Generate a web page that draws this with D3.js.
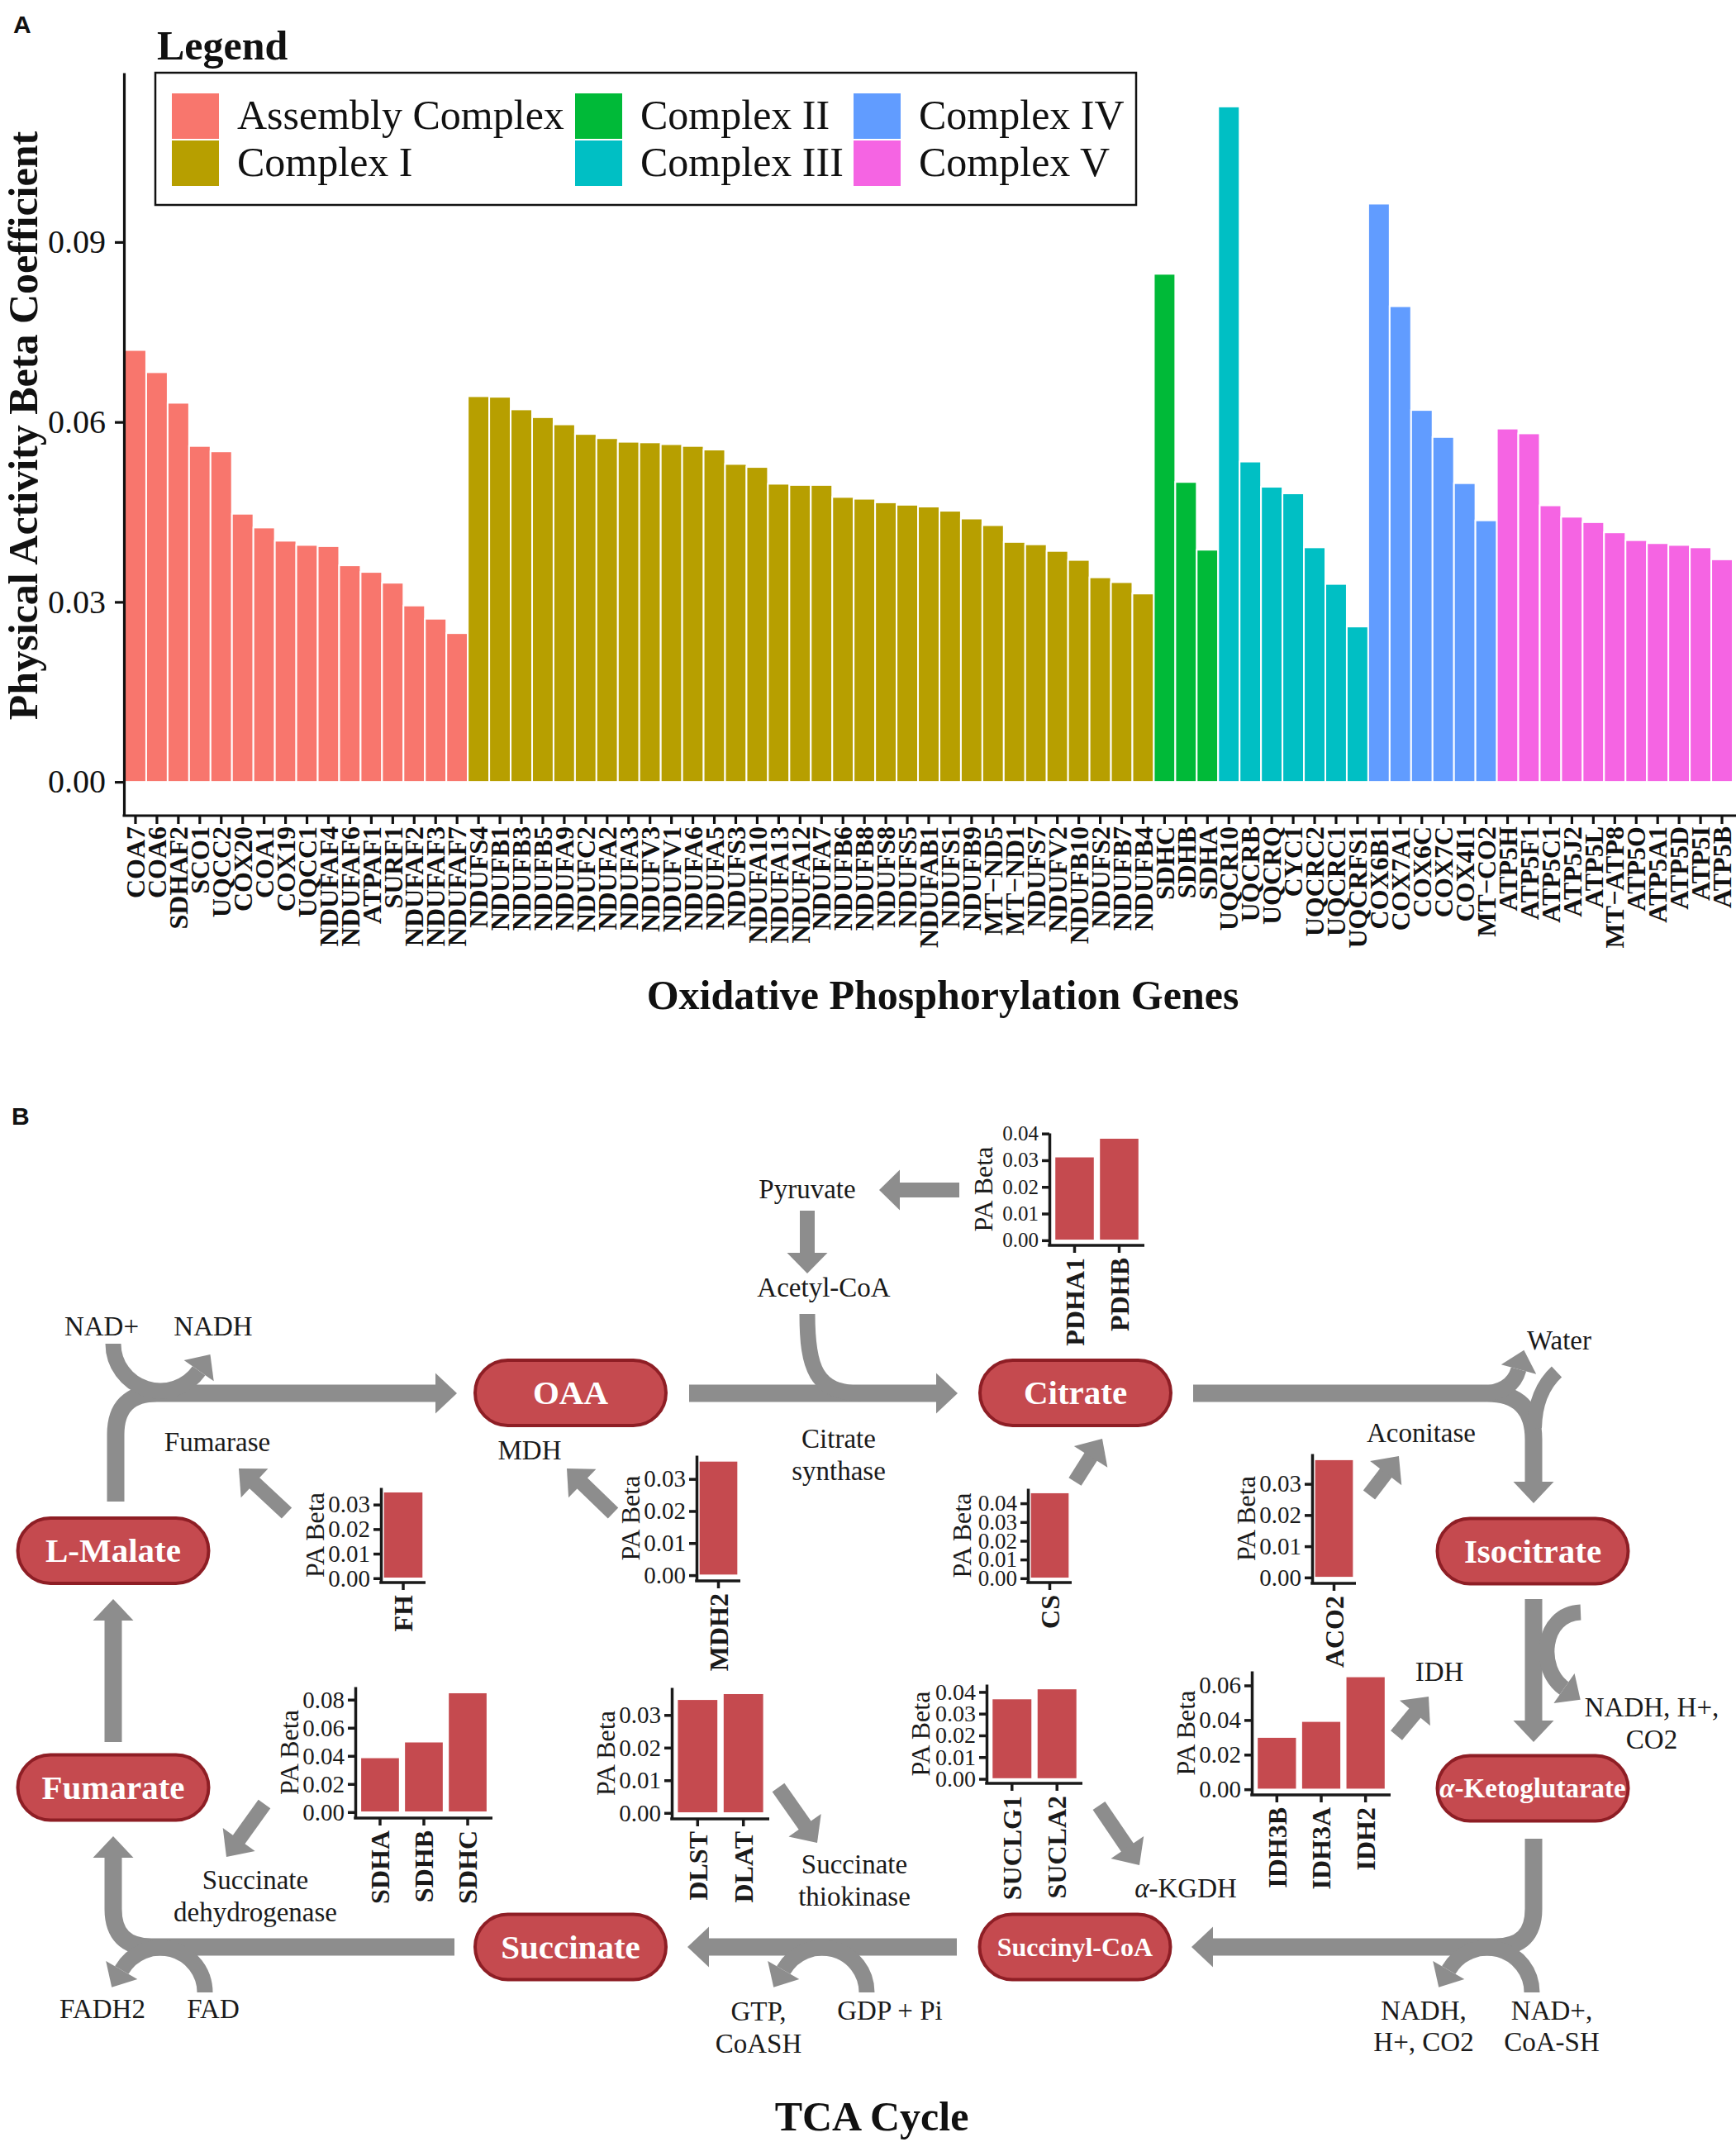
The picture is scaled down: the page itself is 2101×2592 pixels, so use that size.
<!DOCTYPE html>
<html><head><meta charset="utf-8">
<script src="https://cdn.jsdelivr.net/npm/d3@7"></script>
<style>body{margin:0;background:#fff}</style>
</head><body>
<script>
// ================= DATA: Panel A =================
const complexNames = ["Assembly Complex","Complex I","Complex II","Complex III","Complex IV","Complex V"];
const complexColors = ["#F8766D","#B79F00","#00BA38","#00BFC4","#619CFF","#F564E3"];

const assemblyGenes = ["COA7","COA6","SDHAF2","SCO1","UQCC2","COX20","COA1","COX19","UQCC1","NDUFAF4","NDUFAF6","ATPAF1","SURF1","NDUFAF2","NDUFAF3","NDUFAF7"];
const assemblyBeta  = [0.0720,0.0683,0.0632,0.0560,0.0551,0.0447,0.0424,0.0402,0.0395,0.0393,0.0361,0.0350,0.0332,0.0294,0.0272,0.0248];

const complexIGenes = ["NDUFS4","NDUFB1","NDUFB3","NDUFB5","NDUFA9","NDUFC2","NDUFA2","NDUFA3","NDUFV3","NDUFV1","NDUFA6","NDUFA5","NDUFS3","NDUFA10","NDUFA13","NDUFA12","NDUFA7","NDUFB6","NDUFB8","NDUFS8","NDUFS5","NDUFAB1","NDUFS1","NDUFB9","MT\u2212ND5","MT\u2212ND1","NDUFS7","NDUFV2","NDUFB10","NDUFS2","NDUFB7","NDUFB4"];
const complexIBeta  = [0.0643,0.0642,0.0621,0.0608,0.0596,0.0580,0.0573,0.0567,0.0566,0.0563,0.0560,0.0554,0.0530,0.0525,0.0497,0.0495,0.0495,0.0475,0.0472,0.0466,0.0462,0.0459,0.0452,0.0439,0.0428,0.0400,0.0396,0.0385,0.0370,0.0341,0.0333,0.0314];

const complexIIGenes = ["SDHC","SDHB","SDHA"];
const complexIIBeta  = [0.0847,0.0500,0.0387];

const complexIIIGenes = ["UQCR10","UQCRB","UQCRQ","CYC1","UQCRC2","UQCRC1","UQCRFS1"];
const complexIIIBeta  = [0.1126,0.0534,0.0492,0.0481,0.0391,0.0330,0.0259];

const complexIVGenes = ["COX6B1","COX7A1","COX6C","COX7C","COX4I1","MT\u2212CO2"];
const complexIVBeta  = [0.0964,0.0793,0.0620,0.0575,0.0498,0.0436];

const complexVGenes = ["ATP5H","ATP5F1","ATP5C1","ATP5J2","ATP5L","MT\u2212ATP8","ATP5O","ATP5A1","ATP5D","ATP5I","ATP5B"];
const complexVBeta  = [0.0589,0.0581,0.0461,0.0442,0.0433,0.0416,0.0403,0.0398,0.0395,0.0391,0.0371];

const yTicksA = [0, 0.03, 0.06, 0.09];

// ================= DATA: Panel B (mini bar charts) =================
const pdhGenes = ["PDHA1","PDHB"];           const pdhBeta = [0.0313,0.0383];
const fhGenes = ["FH"];                      const fhBeta = [0.0352];
const mdhGenes = ["MDH2"];                   const mdhBeta = [0.0356];
const csGenes = ["CS"];                      const csBeta = [0.0457];
const acoGenes = ["ACO2"];                   const acoBeta = [0.0378];
const sdhGenes = ["SDHA","SDHB","SDHC"];     const sdhBeta = [0.0388,0.0500,0.0850];
const dlGenes = ["DLST","DLAT"];             const dlBeta = [0.0348,0.0366];
const suclGenes = ["SUCLG1","SUCLA2"];       const suclBeta = [0.0369,0.0415];
const idhGenes = ["IDH3B","IDH3A","IDH2"];   const idhBeta = [0.0301,0.0393,0.0651];
const ticks01_03 = [0,0.01,0.02,0.03];
const ticks01_04 = [0,0.01,0.02,0.03,0.04];
const ticks02_06 = [0,0.02,0.04,0.06];
const ticks02_08 = [0,0.02,0.04,0.06,0.08];

// ================= RENDER =================
const W = 2101, H = 2592;
const SERIF = "'Liberation Serif','Times New Roman',Times,serif";
const INK = "#111";
const svg = d3.select("body").append("svg").attr("width",W).attr("height",H)
  .style("font-family",SERIF).style("background","#fff");
svg.append("rect").attr("width",W).attr("height",H).attr("fill","#fff");

// ---------- Panel A ----------
const geneGroups = [
  [assemblyGenes,assemblyBeta],[complexIGenes,complexIBeta],[complexIIGenes,complexIIBeta],
  [complexIIIGenes,complexIIIBeta],[complexIVGenes,complexIVBeta],[complexVGenes,complexVBeta]];
const rowsA = [];
geneGroups.forEach((grp,ci)=>grp[0].forEach((g,i)=>rowsA.push({gene:g,beta:grp[1][i],c:ci})));

const A = {l:151, r:2097, t:88, b:987};
const maxA = d3.max(rowsA,d=>d.beta);
const xA = d3.scaleBand().domain(rowsA.map(d=>d.gene)).range([A.l,A.r]).padding(0);
const yA = d3.scaleLinear().domain([-0.05*maxA,1.05*maxA]).range([A.b,A.t]);

svg.append("text").attr("x",16).attr("y",40).attr("font-family","'Liberation Sans',Arial,sans-serif")
  .attr("font-weight","bold").attr("font-size",30).attr("fill",INK).text("A");

svg.append("g").selectAll("rect").data(rowsA).join("rect")
  .attr("x",d=>xA(d.gene)).attr("width",xA.bandwidth())
  .attr("y",d=>yA(d.beta)).attr("height",d=>yA(0)-yA(d.beta))
  .attr("fill",d=>complexColors[d.c]).attr("stroke","#fff").attr("stroke-width",2);

const yAxA = svg.append("g").attr("transform",`translate(${A.l-1},0)`)
  .call(d3.axisLeft(yA).tickValues(yTicksA).tickFormat(d3.format(".2f")).tickSize(11).tickPadding(11).tickSizeOuter(0));
yAxA.attr("font-family",SERIF).attr("font-size",40);
yAxA.selectAll("path,line").attr("stroke",INK).attr("stroke-width",3.2);
yAxA.selectAll("text").attr("fill",INK);

const xAxA = svg.append("g").attr("transform",`translate(0,${A.b})`)
  .call(d3.axisBottom(xA).tickSize(10).tickSizeOuter(0));
xAxA.select(".domain").attr("d",`M${A.l-2.5},0H${W}`);
xAxA.attr("font-family",SERIF).attr("font-size",32).attr("font-weight","bold");
xAxA.selectAll("path,line").attr("stroke",INK).attr("stroke-width",3.2);
xAxA.selectAll("text").attr("fill",INK).attr("transform","rotate(-90)")
  .attr("x",-13).attr("y",0).attr("dy","0.35em").attr("text-anchor","end");

svg.append("text").attr("transform","translate(27,515) rotate(-90)").attr("text-anchor","middle")
  .attr("dy","0.35em").attr("font-weight","bold").attr("font-size",50).attr("fill",INK)
  .text("Physical Activity Beta Coefficient");
svg.append("text").attr("x",1141).attr("y",1221).attr("text-anchor","middle")
  .attr("font-weight","bold").attr("font-size",50).attr("fill",INK).text("Oxidative Phosphorylation Genes");

// legend
const lg = svg.append("g");
lg.append("rect").attr("x",188).attr("y",88).attr("width",1187).attr("height",160)
  .attr("fill","#fff").attr("stroke",INK).attr("stroke-width",2.5);
lg.append("text").attr("x",190).attr("y",72).attr("font-weight","bold").attr("font-size",50).attr("fill",INK).text("Legend");
const keyX = [208,696,1033];
complexNames.forEach((n,i)=>{
  const col = Math.floor(i/2), row = i%2;
  lg.append("rect").attr("x",keyX[col]).attr("y",113+row*57).attr("width",57).attr("height",55)
    .attr("fill",complexColors[i]);
  lg.append("text").attr("x",keyX[col]+79).attr("y",156+row*57).attr("font-size",50).attr("fill",INK).text(n);
});

// ---------- Panel B ----------
svg.append("text").attr("x",14).attr("y",1361).attr("font-family","'Liberation Sans',Arial,sans-serif")
  .attr("font-weight","bold").attr("font-size",30).attr("fill",INK).text("B");

const GRAY = "#8D8D8D";
const RED = "#C54A4F", RED_DARK = "#8E1E25";
const arrows = svg.append("g");

function head(bx,by,ux,uy,len=26,half=24.5){
  const px=-uy, py=ux;
  arrows.append("path").attr("fill",GRAY)
    .attr("d",`M${bx+len*ux},${by+len*uy}L${bx+half*px},${by+half*py}L${bx-half*px},${by-half*py}Z`);
}
function stroke(d,w){
  arrows.append("path").attr("d",d).attr("fill","none").attr("stroke",GRAY).attr("stroke-width",w).attr("stroke-linecap","butt");
}
function straightArrow(x1,y1,x2,y2,w=18,len=26,half=24){
  const dx=x2-x1, dy=y2-y1, L=Math.hypot(dx,dy), ux=dx/L, uy=dy/L;
  const bx=x2-len*ux, by=y2-len*uy;
  stroke(`M${x1},${y1}L${bx+ux},${by+uy}`,w);
  head(bx,by,ux,uy,len,half);
}
function capArc(cx,cy,r,w){ // inverted-U arc below a main line; right end incoming, left end out with arrowhead
  const th=-150*Math.PI/180;
  const ex=cx+r*Math.cos(th), ey=cy+r*Math.sin(th);
  stroke(`M${cx+r},${cy}A${r},${r} 0 0 0 ${ex},${ey}`,w);
  head(ex,ey,Math.sin(th),-Math.cos(th),24,22);
}

// main cycle paths
const MW = 21;
// L-Malate -> OAA
stroke("M140,1817L140,1736Q140,1686 190,1686L528,1686",MW); head(527,1686,1,0);
{ // NAD+ -> NADH arc
  const cx=194, cy=1626, r=57, th=35*Math.PI/180;
  const ex=cx+r*Math.cos(th), ey=cy+r*Math.sin(th);
  stroke(`M${cx-r},${cy}A${r},${r} 0 0 0 ${ex},${ey}`,19);
  head(ex,ey,Math.sin(th),-Math.cos(th),24,22);
}
// OAA -> Citrate
stroke("M834,1686L1134,1686",MW); head(1133,1686,1,0);
stroke("M977,1590C977,1655 987,1686 1042,1686",19);
// Pyruvate arrows
straightArrow(1161,1440,1064,1440,18,25,24.5);
straightArrow(977,1465,977,1541,18,25,24.5);
// Citrate -> Isocitrate
stroke("M1444,1686L1800,1686Q1856,1686 1856,1742L1856,1794",MW); head(1856,1793,0,1);
{ const ux=8, uy=-29, L=Math.hypot(ux,uy);
  stroke("M1792,1686Q1830,1686 1838,1657",19); head(1838,1657,ux/L,uy/L,24,22); }
stroke("M1884,1660Q1858,1684 1857,1728",18);
// Isocitrate -> alpha-KG
stroke("M1856,1935L1856,2083",MW); head(1856,2082,0,1);
{ const ux=33, uy=23, L=Math.hypot(ux,uy);
  stroke("M1913,1951C1865,1953 1860,2020 1893,2043",19); head(1893,2043,ux/L,uy/L,24,22); }
// alpha-KG -> Succinyl-CoA
stroke("M1856,2225L1856,2310Q1856,2356 1810,2356L1467,2356",MW); head(1468,2356,-1,0);
capArc(1800,2411,54,19);
// Succinyl-CoA -> Succinate
stroke("M1158,2356L857,2356",MW); head(858,2356,-1,0);
capArc(995,2411,54,19);
// Succinate -> Fumarate
stroke("M550,2356L183,2356Q137,2356 137,2310L137,2247",MW); head(137,2248,0,-1);
capArc(194,2411,54,19);
// Fumarate -> L-Malate
stroke("M137,2108L137,1960",MW); head(137,1961,0,-1);

// enzyme arrows from charts
straightArrow(347,1831,289,1777);
straightArrow(742,1831,686,1777);
straightArrow(1301,1793,1334,1741);
straightArrow(1657,1809,1693,1762);
straightArrow(1690,2100,1729,2053);
straightArrow(320,2183,274,2247);
straightArrow(942,2163,989,2230);
straightArrow(1330,2185,1379,2257);

// metabolite nodes
const nodes = svg.append("g");
function node(cx,cy,label,fs,alpha){
  nodes.append("rect").attr("x",cx-115.5).attr("y",cy-39.5).attr("width",231).attr("height",79)
    .attr("rx",39.5).attr("fill",RED).attr("stroke",RED_DARK).attr("stroke-width",4);
  const t = nodes.append("text").attr("x",cx).attr("y",cy).attr("dy","0.33em").attr("text-anchor","middle")
    .attr("font-weight","bold").attr("font-size",fs).attr("fill","#fff");
  if(alpha){ t.append("tspan").attr("font-style","italic").text("\u03b1"); t.append("tspan").text(label); }
  else t.text(label);
}
node(690.5,1685.5,"OAA",41);
node(1301.5,1685.5,"Citrate",41);
node(137,1876.5,"L-Malate",41);
node(1855,1877,"Isocitrate",41);
node(137,2163,"Fumarate",41);
node(1855,2164,"-Ketoglutarate",33,true);
node(690.5,2356,"Succinate",41);
node(1301,2356,"Succinyl-CoA",32);

// labels
const labs = svg.append("g").attr("font-size",33).attr("fill","#1a1a1a").attr("text-anchor","middle");
function lab(x,y,t){ labs.append("text").attr("x",x).attr("y",y).text(t); }
lab(977,1450,"Pyruvate");
lab(997,1569,"Acetyl-CoA");
lab(123,1616,"NAD+"); lab(258,1616,"NADH");
lab(263,1756,"Fumarase");
lab(641,1766,"MDH");
lab(1015,1752,"Citrate"); lab(1015,1791,"synthase");
lab(1887,1633,"Water");
lab(1720,1745,"Aconitase");
lab(1742,2034,"IDH");
lab(1999,2077,"NADH, H+,"); lab(1999,2116,"CO2");
{ const t=labs.append("text").attr("x",1435).attr("y",2296);
  t.append("tspan").attr("font-style","italic").text("\u03b1"); t.append("tspan").text("-KGDH"); }
lab(1034,2267,"Succinate"); lab(1034,2306,"thiokinase");
lab(309,2286,"Succinate"); lab(309,2325,"dehydrogenase");
lab(124,2442,"FADH2"); lab(258,2442,"FAD");
lab(918,2445,"GTP,"); lab(918,2484,"CoASH");
lab(1077,2444,"GDP + Pi");
lab(1723,2444,"NADH,"); lab(1723,2482,"H+, CO2");
lab(1878,2444,"NAD+,"); lab(1878,2482,"CoA-SH");
svg.append("text").attr("x",1055).attr("y",2578).attr("text-anchor","middle").attr("font-weight","bold")
  .attr("font-size",50).attr("fill",INK).text("TCA Cycle");

// mini bar charts
function miniChart(genes,betas,ticks,box,tickFs){
  const g = svg.append("g");
  const maxV = d3.max(betas);
  const y = d3.scaleLinear().domain([-0.05*maxV,1.05*maxV]).range([box.b,box.t]);
  const x = d3.scaleBand().domain(genes).range([box.l,box.r])
    .paddingInner(0.11).paddingOuter(genes.length===1?0.04:0.12);
  g.selectAll("rect").data(genes).join("rect")
    .attr("x",d=>x(d)).attr("width",x.bandwidth())
    .attr("y",(d,i)=>y(betas[i])).attr("height",(d,i)=>y(0)-y(betas[i]))
    .attr("fill",RED).attr("stroke","#fff").attr("stroke-width",1.5);
  const ya = g.append("g").attr("transform",`translate(${box.l},0)`)
    .call(d3.axisLeft(y).tickValues(ticks).tickFormat(d3.format(".2f")).tickSize(9).tickSizeOuter(0).tickPadding(4));
  ya.attr("font-family",SERIF).attr("font-size",tickFs);
  ya.selectAll("path,line").attr("stroke","#1a1a1a").attr("stroke-width",3.5);
  ya.selectAll("text").attr("fill","#1a1a1a");
  const xa = g.append("g").attr("transform",`translate(0,${box.b})`)
    .call(d3.axisBottom(x).tickSize(9).tickSizeOuter(0));
  xa.select(".domain").attr("d",`M${box.l-1.75},0H${box.r}`);
  xa.attr("font-family",SERIF).attr("font-size",32).attr("font-weight","bold");
  xa.selectAll("path,line").attr("stroke","#1a1a1a").attr("stroke-width",3.5);
  xa.selectAll("text").attr("fill","#1a1a1a").attr("transform","rotate(-90)")
    .attr("x",-15).attr("y",0).attr("dy","0.35em").attr("text-anchor","end");
  g.append("text").attr("transform",`translate(${box.l-80},${(box.t+box.b)/2}) rotate(-90)`)
    .attr("text-anchor","middle").attr("dy","0.35em").attr("font-size",32).attr("fill","#1a1a1a").text("PA Beta");
}
miniChart(pdhGenes,pdhBeta,ticks01_04,{l:1270,t:1371,r:1385,b:1507},25);
miniChart(fhGenes,fhBeta,ticks01_03,{l:461,t:1800,r:515,b:1915},29);
miniChart(mdhGenes,mdhBeta,ticks01_03,{l:843,t:1761,r:896,b:1913},29);
miniChart(csGenes,csBeta,ticks01_04,{l:1244,t:1801,r:1297,b:1915},27);
miniChart(acoGenes,acoBeta,ticks01_03,{l:1588,t:1759,r:1641,b:1916},29);
miniChart(sdhGenes,sdhBeta,ticks02_08,{l:430,t:2041,r:596,b:2200},29);
miniChart(dlGenes,dlBeta,ticks01_03,{l:813,t:2042,r:931,b:2201},29);
miniChart(suclGenes,suclBeta,ticks01_04,{l:1194,t:2038,r:1310,b:2158},28);
miniChart(idhGenes,idhBeta,ticks02_06,{l:1515,t:2022,r:1683,b:2172},29);
</script>
</body></html>
